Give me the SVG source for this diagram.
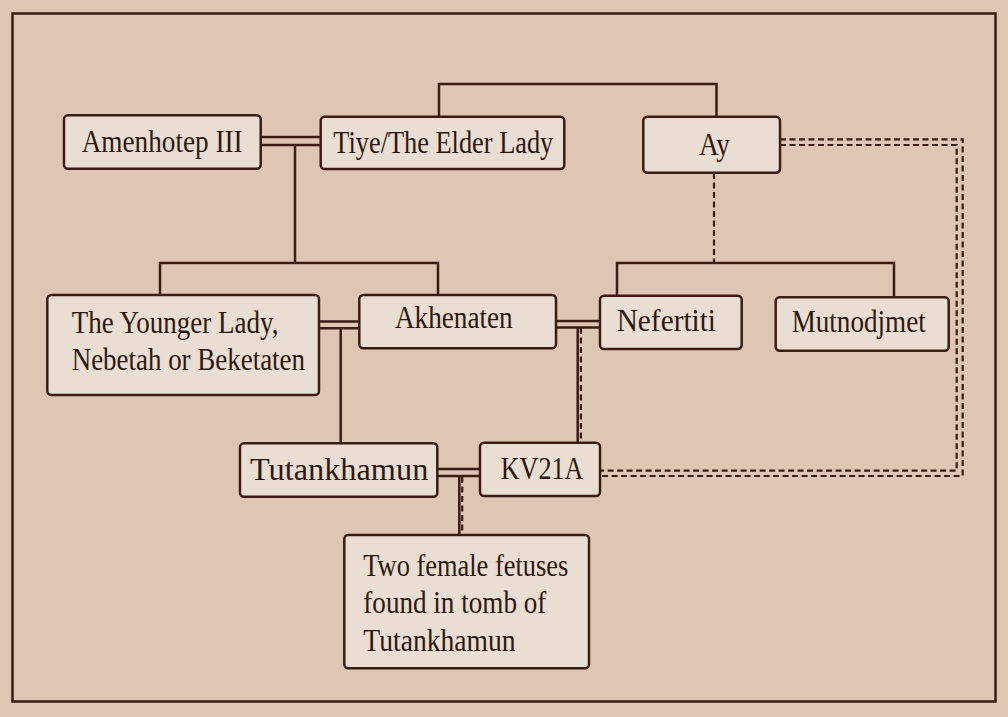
<svg xmlns="http://www.w3.org/2000/svg" width="1008" height="717" viewBox="0 0 1008 717">
<style>
.bg{fill:#dec5b4}
.frame{fill:none;stroke:#3a1c12;stroke-width:2.5}
.box{fill:#eaddd1;stroke:#3a1c12;stroke-width:2.5}
.t{font-family:"Liberation Serif","Times New Roman",serif;font-size:32px;fill:#2e1810}
.ln{fill:none;stroke:#3a1c12;stroke-width:2.5}
.ds{fill:none;stroke:#3a1c12;stroke-width:2.2;stroke-dasharray:6 3.5}
</style>
<rect class="bg" x="0" y="0" width="1008" height="717"/>
<rect class="frame" x="12.5" y="13.5" width="983" height="688"/>
<g id="connectors">
<path class="ln" d="M261,137H320M261,145H320"/>
<path class="ln" d="M295,145V263M160,296V263H438V296"/>
<path class="ln" d="M439,117V84H716.5V117"/>
<path class="ds" d="M714,173V263"/>
<path class="ln" d="M617,296V263H894V297"/>
<path class="ln" d="M319,321.5H359M319,328.3H359"/>
<path class="ln" d="M340.7,328.3V443"/>
<path class="ln" d="M556,321H600M556,327.5H600"/>
<path class="ln" d="M577.7,327.5V442"/>
<path class="ds" d="M580.9,328V442"/>
<path class="ds" d="M780,139.3H962.7V476H600"/>
<path class="ds" d="M780,145H956.7V470.7H600"/>
<path class="ln" d="M437,469H480M437,476H480"/>
<path class="ln" d="M459.3,476V535"/>
<path class="ds" d="M462.2,477V535"/>
</g>
<g id="amenhotep"><rect class="box" x="64" y="115.3" width="196.7" height="53.4" rx="4"/><text class="t" x="81.7" y="151.7" textLength="161" lengthAdjust="spacingAndGlyphs">Amenhotep III</text></g>
<g id="tiye"><rect class="box" x="320.7" y="116.7" width="243.6" height="52.3" rx="4"/><text class="t" x="333.3" y="153.3" textLength="220" lengthAdjust="spacingAndGlyphs">Tiye/The Elder Lady</text></g>
<g id="ay"><rect class="box" x="643.3" y="116.7" width="136.7" height="56" rx="4"/><text class="t" x="699" y="155" textLength="31" lengthAdjust="spacingAndGlyphs">Ay</text></g>
<g id="younger-lady"><rect class="box" x="47.3" y="295" width="271.7" height="100" rx="4"/><text class="t" x="71.7" y="333.3" textLength="206.7" lengthAdjust="spacingAndGlyphs">The Younger Lady,</text><text class="t" x="71.7" y="370" textLength="233.3" lengthAdjust="spacingAndGlyphs">Nebetah or Beketaten</text></g>
<g id="akhenaten"><rect class="box" x="359.3" y="295" width="196.7" height="53.3" rx="4"/><text class="t" x="395" y="328.3" textLength="117.7" lengthAdjust="spacingAndGlyphs">Akhenaten</text></g>
<g id="nefertiti"><rect class="box" x="600" y="295.7" width="141.7" height="53.3" rx="4"/><text class="t" x="616.7" y="330.7" textLength="99.3" lengthAdjust="spacingAndGlyphs">Nefertiti</text></g>
<g id="mutnodjmet"><rect class="box" x="775.7" y="297.3" width="173" height="53.4" rx="4"/><text class="t" x="791.7" y="331.7" textLength="134" lengthAdjust="spacingAndGlyphs">Mutnodjmet</text></g>
<g id="tutankhamun"><rect class="box" x="240" y="443.3" width="197.3" height="53.4" rx="4"/><text class="t" x="250" y="480" textLength="178.3" lengthAdjust="spacingAndGlyphs">Tutankhamun</text></g>
<g id="kv21a"><rect class="box" x="480" y="442.7" width="120" height="53.3" rx="4"/><text class="t" x="500.7" y="479" textLength="82.7" lengthAdjust="spacingAndGlyphs">KV21A</text></g>
<g id="fetuses"><rect class="box" x="344.3" y="535" width="244.7" height="133.3" rx="4"/><text class="t" x="363.3" y="576" textLength="205" lengthAdjust="spacingAndGlyphs">Two female fetuses</text><text class="t" x="363.3" y="613" textLength="183" lengthAdjust="spacingAndGlyphs">found in tomb of</text><text class="t" x="363.3" y="651" textLength="152.3" lengthAdjust="spacingAndGlyphs">Tutankhamun</text></g>
</svg>
